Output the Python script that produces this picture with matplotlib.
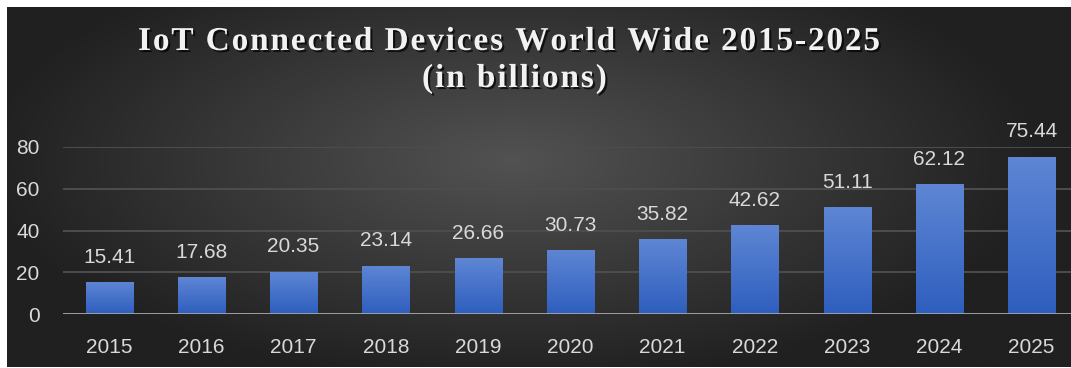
import numpy as np
import matplotlib
matplotlib.use("Agg")
import matplotlib.pyplot as plt
import matplotlib.patheffects as pe
from matplotlib.font_manager import FontProperties

# ---- data ----
years = ["2015", "2016", "2017", "2018", "2019", "2020", "2021", "2022", "2023", "2024", "2025"]
devices = [15.41, 17.68, 20.35, 23.14, 26.66, 30.73, 35.82, 42.62, 51.11, 62.12, 75.44]
yticks = [0, 20, 40, 60, 80]
title_line1 = "IoT Connected Devices World Wide 2015-2025"
title_line2 = "(in billions)"

W, H = 1071, 368
fig = plt.figure(figsize=(W / 100, H / 100), dpi=100)
fig.patch.set_facecolor("white")

def fx(px):
    return px / W

def fy(py):
    return 1 - py / H

# ---- background panel with radial gradient ----
pl, pt, pr, pb = 7, 7, 1071, 367
bg = fig.add_axes([fx(pl), fy(pb), fx(pr - pl), (pb - pt) / H], zorder=0)
gx = np.linspace(-1, 1, 600)
gy = np.linspace(-1, 1, 220)
X, Y = np.meshgrid(gx, gy)
cx, cy = -0.05, -0.15
R = np.sqrt(((X - cx) / 1.0) ** 2 + ((Y - cy) / 1.25) ** 2)
R = np.clip(R / 1.0, 0, 1)
c_center = np.array([0x52, 0x52, 0x52]) / 255
c_edge = np.array([0x20, 0x20, 0x20]) / 255
img = c_center[None, None, :] * (1 - R[..., None]) + c_edge[None, None, :] * R[..., None]
bg.imshow(img, aspect="auto", extent=(0, 1, 0, 1), origin="upper", interpolation="bilinear")
bg.set_axis_off()

# ---- main axes ----
ax_l, ax_r, ax_top, ax_bot = 63, 1071, 147, 314
ax = fig.add_axes([fx(ax_l), fy(ax_bot), fx(ax_r - ax_l), (ax_bot - ax_top) / H], zorder=1)
ax.patch.set_alpha(0)

x = np.arange(len(years))
bw = 0.51
bars = ax.bar(x, devices, width=bw, color="#4470c8", zorder=3, linewidth=0)

grad = np.linspace(0, 1, 256)[:, None]
top_c = np.array([0x5e, 0x86, 0xd4]) / 255
bot_c = np.array([0x2e, 0x5e, 0xbe]) / 255
gimg = top_c[None, None, :] * (1 - grad[..., None]) + bot_c[None, None, :] * grad[..., None]
for b in bars:
    x0 = b.get_x()
    h = b.get_height()
    im = ax.imshow(gimg, aspect="auto", extent=(x0, x0 + b.get_width(), 0, h),
                   origin="upper", zorder=4, interpolation="bilinear")
    im.set_clip_path(b)

xmax = (ax_r - 108.5) / 92.3
ax.set_xlim(-0.5, xmax)
ax.set_ylim(0, 80)
ax.set_yticks(yticks)
ax.set_xticks(x)
ax.set_xticklabels(years)

tick_font = "Liberation Sans"
for lbl in ax.get_xticklabels() + ax.get_yticklabels():
    lbl.set_fontfamily(tick_font)
    lbl.set_fontsize(15)
    lbl.set_color("#d9d9d9")
ax.tick_params(axis="both", length=0)
ax.tick_params(axis="x", pad=17)
ax.tick_params(axis="y", pad=17)

for s in ax.spines.values():
    s.set_visible(False)
ax.grid(axis="y", color="#4d4d4d", linewidth=1.4, zorder=0)
ax.set_axisbelow(True)
ax.axhline(0, color="#a5a5a5", linewidth=2.0, zorder=5)

for xi, v in zip(x, devices):
    ax.annotate(f"{v:.2f}", (xi, v), xytext=(0, 11), textcoords="offset points",
                ha="center", va="bottom", fontsize=15, color="#d9d9d9",
                family=tick_font, annotation_clip=False, zorder=6)

# ---- title with letter spacing and shadow ----
fig.canvas.draw()
renderer = fig.canvas.get_renderer()
tprop = FontProperties(family="Liberation Serif", weight="bold", size=24)

def spaced_text(s, left_px, base_px, target_w):
    widths = [renderer.get_text_width_height_descent(c, tprop, ismath=False)[0] for c in s]
    nat = sum(widths)
    sp = (target_w - nat) / (len(s) - 1)
    cur = left_px
    for c, w in zip(s, widths):
        if c != " ":
            fig.text(fx(cur), fy(base_px), c, fontproperties=tprop, color="#f2f2f2",
                     ha="left", va="baseline", zorder=10,
                     path_effects=[pe.withSimplePatchShadow(offset=(1.5, -1.5),
                                                            shadow_rgbFace="black", alpha=0.7)])
        cur += w + sp

spaced_text(title_line1, 138, 50, 742)
spaced_text(title_line2, 422, 87, 185)

fig.savefig("out.png", dpi=100, facecolor=fig.get_facecolor())
